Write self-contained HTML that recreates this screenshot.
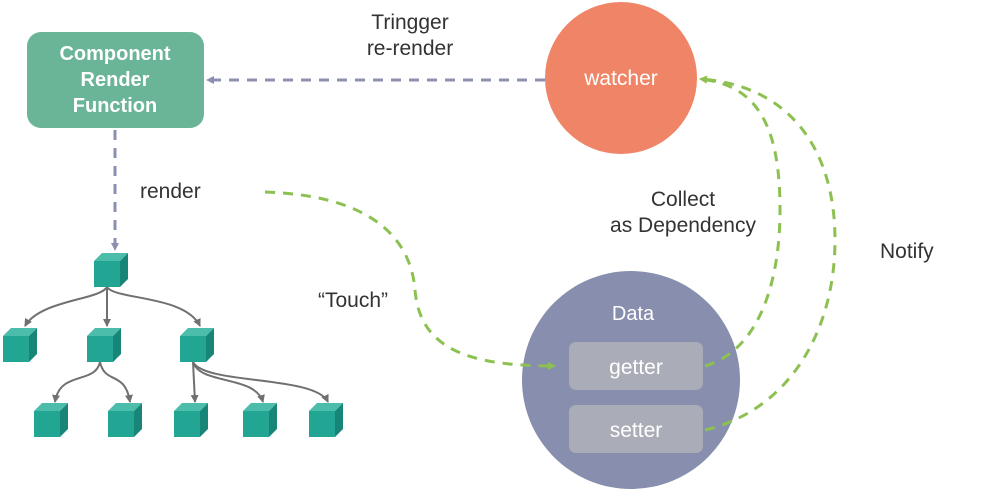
<!DOCTYPE html>
<html><head><meta charset="utf-8"><style>
body{margin:0;background:#fff;width:1001px;height:498px;overflow:hidden}
svg{display:block}
text{font-family:"Liberation Sans",sans-serif}
</style></head><body>
<svg width="1001" height="498" viewBox="0 0 1001 498">
<defs>
<marker id="ag" markerWidth="8" markerHeight="8" refX="7" refY="4" orient="auto" markerUnits="userSpaceOnUse"><path d="M0,0 L8,4 L0,8 Z" fill="#8cc152"/></marker>
<marker id="ap" markerWidth="8" markerHeight="8" refX="7" refY="4" orient="auto" markerUnits="userSpaceOnUse"><path d="M0,0 L8,4 L0,8 Z" fill="#8c8fb0"/></marker>
<marker id="ak" markerWidth="8" markerHeight="8" refX="7" refY="4" orient="auto" markerUnits="userSpaceOnUse"><path d="M0,0 L8,4 L0,8 Z" fill="#707070"/></marker>
<g id="cube">
<polygon points="0,8 26,8 26,34 0,34" fill="#22a592"/>
<polygon points="0,8 8,0 34,0 26,8" fill="#4cbcab"/>
<polygon points="26,8 34,0 34,26 26,34" fill="#178577"/>
</g>
</defs>
<rect x="27" y="32" width="177" height="96" rx="14" fill="#6ab497"/>
<text x="115" y="60" font-size="20" font-weight="bold" fill="#fff" text-anchor="middle">Component</text>
<text x="115" y="86" font-size="20" font-weight="bold" fill="#fff" text-anchor="middle">Render</text>
<text x="115" y="112" font-size="20" font-weight="bold" fill="#fff" text-anchor="middle">Function</text>
<circle cx="621" cy="78" r="76" fill="#ef8466"/>
<text x="621" y="85" font-size="21" fill="#fff" text-anchor="middle">watcher</text>
<circle cx="631" cy="380" r="109" fill="#888ead"/>
<text x="633" y="320" font-size="20" fill="#fff" text-anchor="middle">Data</text>
<rect x="569" y="342" width="134" height="48" rx="7" fill="#aaadb7"/>
<text x="636" y="374" font-size="21" fill="#fff" text-anchor="middle">getter</text>
<rect x="569" y="405" width="134" height="48" rx="7" fill="#aaadb7"/>
<text x="636" y="437" font-size="21" fill="#fff" text-anchor="middle">setter</text>
<g fill="#333" font-size="21">
<text x="410" y="29" text-anchor="middle">Tringger</text>
<text x="410" y="55" text-anchor="middle">re-render</text>
<text x="140" y="198">render</text>
<text x="318" y="307">“Touch”</text>
<text x="683" y="206" text-anchor="middle">Collect</text>
<text x="683" y="232" text-anchor="middle">as Dependency</text>
<text x="880" y="258">Notify</text>
</g>
<g fill="none" stroke-width="3" stroke-dasharray="10,8">
<path d="M545,80 L207,80" stroke="#8c8fb0" marker-end="url(#ap)"/>
<path d="M115,130 L115,250" stroke="#8c8fb0" marker-end="url(#ap)"/>
<path d="M265,192 C360,195 410,230 415,290 C420,350 470,366 555,366" stroke="#8cc152" marker-end="url(#ag)"/>
<path d="M705,366 C760,350 780,280 780,210 C780,130 760,85 700,79" stroke="#8cc152" marker-end="url(#ag)"/>
<path d="M705,430 C790,410 835,330 835,240 C835,150 790,85 700,79" stroke="#8cc152" marker-end="url(#ag)"/>
</g>
<g fill="none" stroke="#707070" stroke-width="2">
<path d="M107,287 C100,300 40,300 25,326" marker-end="url(#ak)"/>
<path d="M107,287 L107,326" marker-end="url(#ak)"/>
<path d="M107,287 C115,300 185,295 200,326" marker-end="url(#ak)"/>
<path d="M100,362 C95,385 60,370 55,402" marker-end="url(#ak)"/>
<path d="M100,362 C105,385 125,370 130,402" marker-end="url(#ak)"/>
<path d="M193,362 L195,402" marker-end="url(#ak)"/>
<path d="M193,362 C200,385 255,375 263,402" marker-end="url(#ak)"/>
<path d="M193,362 C205,385 315,375 328,402" marker-end="url(#ak)"/>
</g>
<use href="#cube" x="94" y="253"/>
<use href="#cube" x="3" y="328"/>
<use href="#cube" x="87" y="328"/>
<use href="#cube" x="180" y="328"/>
<use href="#cube" x="34" y="403"/>
<use href="#cube" x="108" y="403"/>
<use href="#cube" x="174" y="403"/>
<use href="#cube" x="243" y="403"/>
<use href="#cube" x="309" y="403"/>
</svg>
</body></html>
